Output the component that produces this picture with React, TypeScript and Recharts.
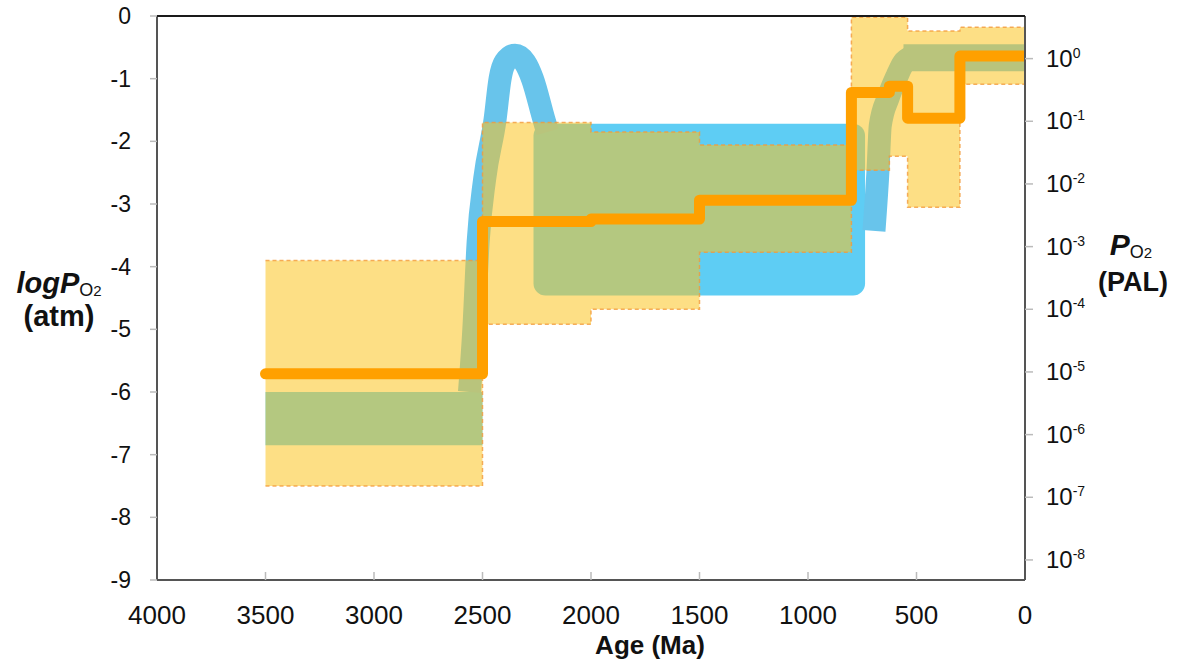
import React from 'react';
import { Area, ComposedChart, Line, ReferenceArea, ReferenceLine, XAxis, YAxis } from 'recharts';

// axes
const ageTicks = [4000, 3500, 3000, 2500, 2000, 1500, 1000, 500, 0];
const logTicks = [0, -1, -2, -3, -4, -5, -6, -7, -8, -9];
const palExponents = [0, -1, -2, -3, -4, -5, -6, -7, -8];
const palOffset = -0.68; // log10 of 0.21 atm = 1 PAL

// yellow envelope (stepped)
const envAges = [3500, 2500, 2000, 1500, 800, 625, 541, 300, 0];
const envLow = [-7.5, -4.92, -4.68, -3.77, -2.46, -2.24, -3.05, -1.09, -1.09];
const envHigh = [-3.9, -1.7, -1.85, -2.06, -0.02, -0.02, -0.24, -0.18, -0.18];

// orange best estimate (stepped)
const bestAges = [3500, 2500, 2000, 1500, 800, 625, 541, 300, 0];
const bestLog = [-5.71, -3.28, -3.24, -2.94, -1.22, -1.12, -1.63, -0.64, -0.64];

// blue: GOE overshoot arch
const archAges = [2560, 2540, 2520, 2490, 2442, 2419, 2396, 2350, 2305, 2270, 2217, 2200];
const archLog = [-6.0, -5.0, -3.6, -2.6, -1.65, -1.0, -0.74, -0.625, -0.74, -1.0, -1.65, -1.85];

// blue: NOE rise
const riseAges = [696, 677, 667, 630, 590, 560, 530];
const riseLog = [-3.43, -2.44, -1.75, -1.3, -0.96, -0.75, -0.665];

// blue bands
const archeanAges = [3500, 2500];
const archeanLow = [-6.85, -6.85];
const archeanHigh = [-6.0, -6.0];
const modernAges = [560, 0];
const modernLow = [-0.88, -0.88];
const modernHigh = [-0.45, -0.45];

// blue Proterozoic box: older/younger age, top/bottom
const proteroAges = [2265, 737];
const proteroLog = [-1.72, -4.46];

const envData = envAges.map((age, i) => ({ age, range: [envLow[i], envHigh[i]] }));
const bestData = bestAges.map((age, i) => ({ age, v: bestLog[i] }));
const archData = archAges.map((age, i) => ({ age, v: archLog[i] }));
const riseData = riseAges.map((age, i) => ({ age, v: riseLog[i] }));
const archeanData = archeanAges.map((age, i) => ({ age, range: [archeanLow[i], archeanHigh[i]] }));
const modernData = modernAges.map((age, i) => ({ age, range: [modernLow[i], modernHigh[i]] }));

const FONT = '"Liberation Sans", Arial, sans-serif';
const BLUE = '#5ecdf4';
const BLUE_CURVE = '#68c4eb';

const PalTick = ({ x, y, payload }: any) => {
  const exp = palExponents[palExponents.findIndex((e) => Math.abs(e + palOffset - payload.value) < 1e-6)];
  return (
    <text x={x} y={y + 8} fontFamily={FONT} fontSize={24} fill="#111">
      10
      <tspan dy={-9} fontSize={14}>{exp}</tspan>
    </text>
  );
};

const RoundBox = (p: any) => (
  <rect x={p.x} y={p.y} width={p.width} height={p.height} rx={12} ry={12} fill={BLUE} />
);

export default function App() {
  return (
    <div style={{ position: 'absolute', left: 0, top: 0, width: 1180, height: 672, background: '#fff' }}>
      <ComposedChart width={1180} height={672} margin={{ top: 16, right: 0, bottom: 0, left: 0 }}>
        <XAxis
          xAxisId="age"
          dataKey="age"
          type="number"
          domain={[0, 4000]}
          reversed
          allowDataOverflow
          ticks={ageTicks}
          height={92}
          tickSize={-8}
          tickMargin={34}
          tick={{ fontSize: 26, fill: '#111', fontFamily: FONT }}
          axisLine={{ stroke: '#555', strokeWidth: 2 }}
          tickLine={{ stroke: '#bbb', strokeWidth: 1.5 }}
        />
        <YAxis
          yAxisId="log"
          type="number"
          domain={[-9, 0]}
          allowDataOverflow
          ticks={logTicks}
          width={157}
          tickSize={7}
          tickMargin={19}
          tick={{ fontSize: 23, fill: '#111', fontFamily: FONT }}
          axisLine={{ stroke: '#555', strokeWidth: 2 }}
          tickLine={{ stroke: '#bbb', strokeWidth: 1.5 }}
        />
        <YAxis
          yAxisId="pal"
          orientation="right"
          type="number"
          domain={[-9, 0]}
          allowDataOverflow
          ticks={palExponents.map((e) => e + palOffset)}
          width={155}
          tickSize={8}
          tickMargin={13}
          tick={<PalTick />}
          axisLine={{ stroke: '#555', strokeWidth: 2 }}
          tickLine={{ stroke: '#bbb', strokeWidth: 1.5 }}
        />

        <ReferenceArea
          xAxisId="age"
          yAxisId="log"
          x1={proteroAges[0]}
          x2={proteroAges[1]}
          y1={proteroLog[0]}
          y2={proteroLog[1]}
          shape={RoundBox}
          zIndex={40}
        />
        <Area
          xAxisId="age"
          yAxisId="log"
          data={archeanData}
          dataKey="range"
          type="linear"
          stroke="none"
          fill={BLUE}
          fillOpacity={1}
          isAnimationActive={false}
          zIndex={40}
        />
        <Area
          xAxisId="age"
          yAxisId="log"
          data={modernData}
          dataKey="range"
          type="linear"
          stroke="none"
          fill={BLUE_CURVE}
          fillOpacity={1}
          isAnimationActive={false}
          zIndex={40}
        />
        <Line
          xAxisId="age"
          yAxisId="log"
          data={archData}
          dataKey="v"
          type="monotone"
          stroke={BLUE_CURVE}
          strokeWidth={23}
          dot={false}
          activeDot={false}
          isAnimationActive={false}
          zIndex={45}
        />
        <Line
          xAxisId="age"
          yAxisId="log"
          data={riseData}
          dataKey="v"
          type="monotone"
          stroke={BLUE_CURVE}
          strokeWidth={23}
          dot={false}
          activeDot={false}
          isAnimationActive={false}
          zIndex={45}
        />
        <Area
          xAxisId="age"
          yAxisId="log"
          data={envData}
          dataKey="range"
          type="stepAfter"
          stroke="#f29a3a"
          strokeOpacity={0.8}
          strokeWidth={1.5}
          strokeDasharray="4 3"
          fill="#fbc421"
          fillOpacity={0.55}
          isAnimationActive={false}
          zIndex={100}
        />
        <Line
          xAxisId="age"
          yAxisId="log"
          data={bestData}
          dataKey="v"
          type="stepAfter"
          stroke="#ffa000"
          strokeWidth={11}
          strokeLinecap="round"
          strokeLinejoin="round"
          dot={false}
          activeDot={false}
          isAnimationActive={false}
          zIndex={400}
        />
        <ReferenceLine xAxisId="age" yAxisId="log" y={0} stroke="#1a1a1a" strokeWidth={2} zIndex={500} />
      </ComposedChart>

      <svg
        width={1180}
        height={672}
        style={{ position: 'absolute', left: 0, top: 0, pointerEvents: 'none' }}
        fontFamily={FONT}
      >
        <text x={59} y={293} textAnchor="middle" fontSize={29} fontWeight="bold" fill="#111">
          <tspan fontStyle="italic">logP</tspan>
          <tspan fontSize={18} fontWeight="normal" dy={3}>O</tspan>
          <tspan fontSize={15} fontWeight="normal">2</tspan>
        </text>
        <text x={59} y={326} textAnchor="middle" fontSize={29} fontWeight="bold" fill="#111">
          (atm)
        </text>
        <text x={1131} y={255} textAnchor="middle" fontSize={30} fontWeight="bold" fill="#111">
          <tspan fontStyle="italic">P</tspan>
          <tspan fontSize={18} fontWeight="normal" dy={3}>O</tspan>
          <tspan fontSize={15} fontWeight="normal">2</tspan>
        </text>
        <text x={1133} y={291} textAnchor="middle" fontSize={27} fontWeight="bold" fill="#111">
          (PAL)
        </text>
        <text x={650} y={654} textAnchor="middle" fontSize={26} fontWeight="bold" fill="#111">
          Age (Ma)
        </text>
      </svg>
    </div>
  );
}
